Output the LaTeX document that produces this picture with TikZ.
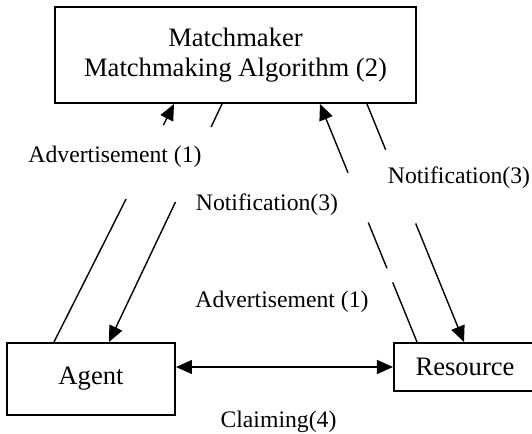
\documentclass[tikz,border=0pt]{standalone}
\usepackage{fontspec}
\setmainfont{Liberation Serif}
\usetikzlibrary{arrows.meta,positioning}

\begin{document}
\begin{tikzpicture}[>={Triangle[length=8pt,width=7pt]},x=0.5pt,y=-0.5pt,
    box/.style={rectangle,draw,line width=1pt,inner sep=0pt,font=\fontsize{13.3}{15}\selectfont},
    lbl/.style={anchor=base,inner sep=0pt,font=\fontsize{11.85}{14}\selectfont}]
    \useasboundingbox (0,0) rectangle (532,434);
    \node[box,minimum width=180.5pt,minimum height=48pt,align=center] (mm) at (235.5,55) {Matchmaker\\Matchmaking Algorithm (2)};
    \node[box,minimum width=84pt,minimum height=36pt] (agent) at (91,379) {Agent};
    \node[box,minimum width=71pt,minimum height=24pt] (res) [right=108.5pt of agent.north east,anchor=north west] {Resource};
    \node[lbl] (adv1) at (115,162) {Advertisement (1)};
    \node[lbl] (not1) at (267,210) {Notification(3)};
    \node[lbl] (not2) at (459,183) {Notification(3)};
    \node[lbl] (adv2) at (282,307) {Advertisement (1)};
    \node[lbl] (claim) at (278.5,427) {Claiming(4)};
    \path[line width=0.7pt]
    ([shift={(48,0)}]agent.north west) edge [->,dash pattern=on 80pt off 41.4pt on 500pt] ([shift={(120,0)}]mm.south west)
    ([shift={(168,0)}]mm.south west) edge [->,dash pattern=on 12.7pt off 41.5pt on 500pt] ([shift={(103,0)}]agent.north west)
    ([shift={(24,0)}]res.north west) edge [->,dash pattern=on 32.2pt off 7.6pt on 24.7pt off 26.9pt on 500pt] ([shift={(266,0)}]mm.south west)
    ([shift={(313,0)}]mm.south west) edge [->,dash pattern=on 24.7pt off 39.8pt on 500pt] ([shift={(71,0)}]res.north west)
    (agent.east |- res.west) edge [<->] (res.west);
\end{tikzpicture}
\end{document}
